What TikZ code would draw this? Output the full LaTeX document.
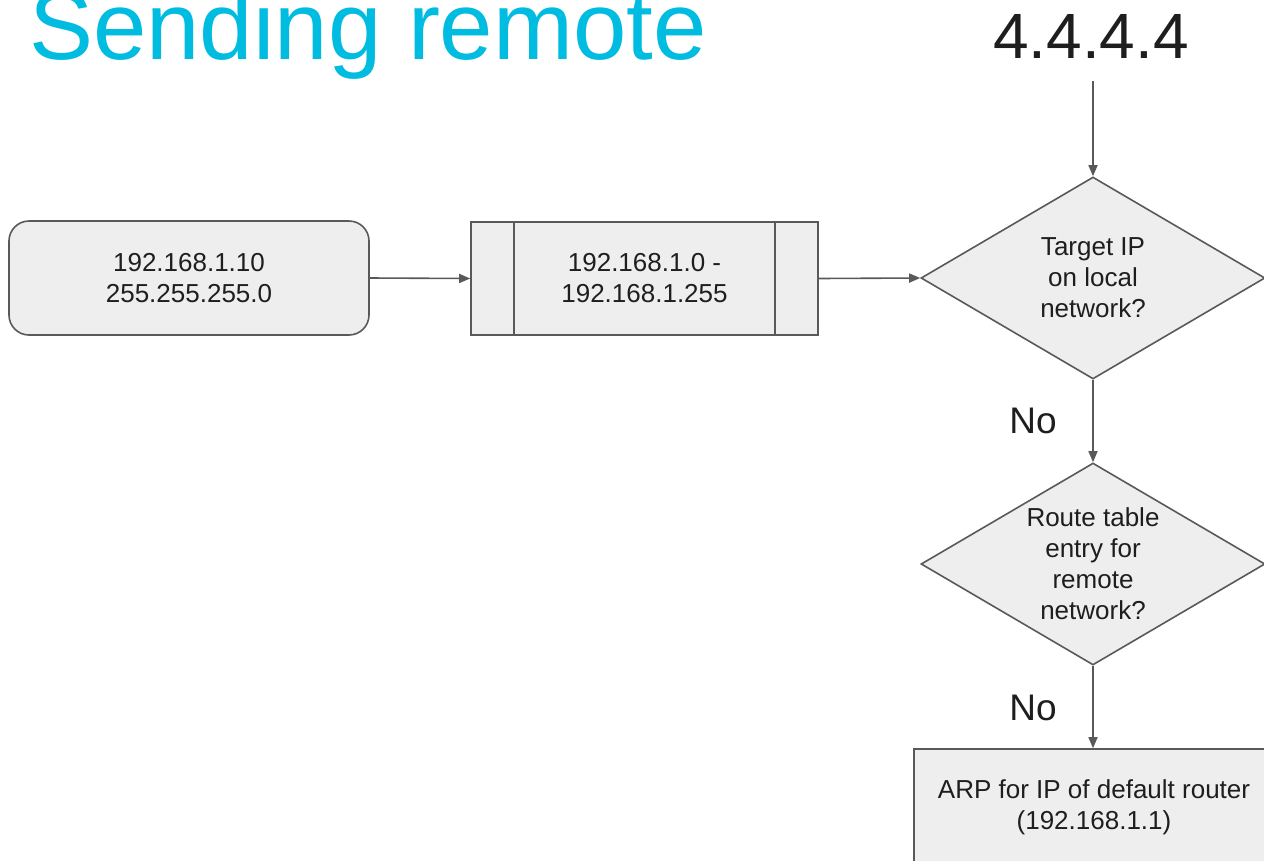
\documentclass[tikz,border=0pt]{standalone}
\usepackage{fontspec}
\setmainfont{Liberation Sans}
\usetikzlibrary{shapes.geometric,arrows.meta}

\definecolor{titlecyan}{RGB}{0,188,224}
\definecolor{boxfill}{RGB}{238,238,238}
\definecolor{boxline}{RGB}{89,89,89}
\definecolor{ink}{RGB}{30,30,30}

\tikzset{
  every node/.style={text=ink},
  bodytext/.style={font=\fontsize{26}{31}\selectfont, align=center},
  flowbox/.style={bodytext, draw=boxline, fill=boxfill, line width=1.6pt, inner sep=0pt},
  decision/.style={flowbox, diamond, shape aspect=1.7, minimum width=344pt, minimum height=202pt},
  flowarrow/.style={draw=boxline, line width=1.6pt, -{Triangle[length=11pt,width=9pt]}},
  answer/.style={font=\fontsize{37}{40}\selectfont, anchor=base, inner sep=0pt}
}

\begin{document}
\begin{tikzpicture}[x=1pt, y=-1pt]
  \clip (0,0) rectangle (1264,860);
  \fill[white] (0,0) rectangle (1264,860);

  % heading and destination address
  \node[anchor=base west, inner sep=0pt, text=titlecyan, font=\fontsize{96}{110}\selectfont]
    (title) at (29,59) {Sending remote};
  \node[anchor=base, inner sep=0pt, font=\fontsize{64}{70}\selectfont]
    (dest) at (1091,58) {4.4.4.4};
  \coordinate (destfoot) at (1093,81);

  % host address and mask
  \node[flowbox, rounded corners=20pt, minimum width=360pt, minimum height=114pt]
    (host) at (189,278) {192.168.1.10\\255.255.255.0};

  % local network range (predefined-process box)
  \node[flowbox, minimum width=347pt, minimum height=113pt]
    (range) at (644.5,278.5) {192.168.1.0 -\\192.168.1.255};
  \draw[boxline, line width=1.6pt]
    ([xshift=44pt]range.north west) -- ([xshift=44pt]range.south west)
    ([xshift=-44pt]range.north east) -- ([xshift=-44pt]range.south east);

  % decisions
  \node[decision] (local) at (1093,278) {Target IP\\on local\\network?};
  \node[decision] (route) at (1093,564) {Route table\\entry for\\remote\\network?};

  % action (runs past the lower and right edges)
  \node[flowbox, minimum width=360pt, minimum height=116pt]
    (arp) at (1094,807) {ARP for IP of default router\\(192.168.1.1)};

  % connectors
  \draw[flowarrow] (host.east) -- (range.west);
  \draw[flowarrow] (range.east) -- (local.west);
  \draw[flowarrow] (destfoot) -- (local.north);
  \draw[flowarrow] (local.south) -- (route.north);
  \draw[flowarrow] (route.south) -- ([xshift=-1pt]arp.north);

  % branch labels
  \node[answer] (no1) at (1033,433) {No};
  \node[answer] (no2) at (1033,720) {No};
\end{tikzpicture}
\end{document}
